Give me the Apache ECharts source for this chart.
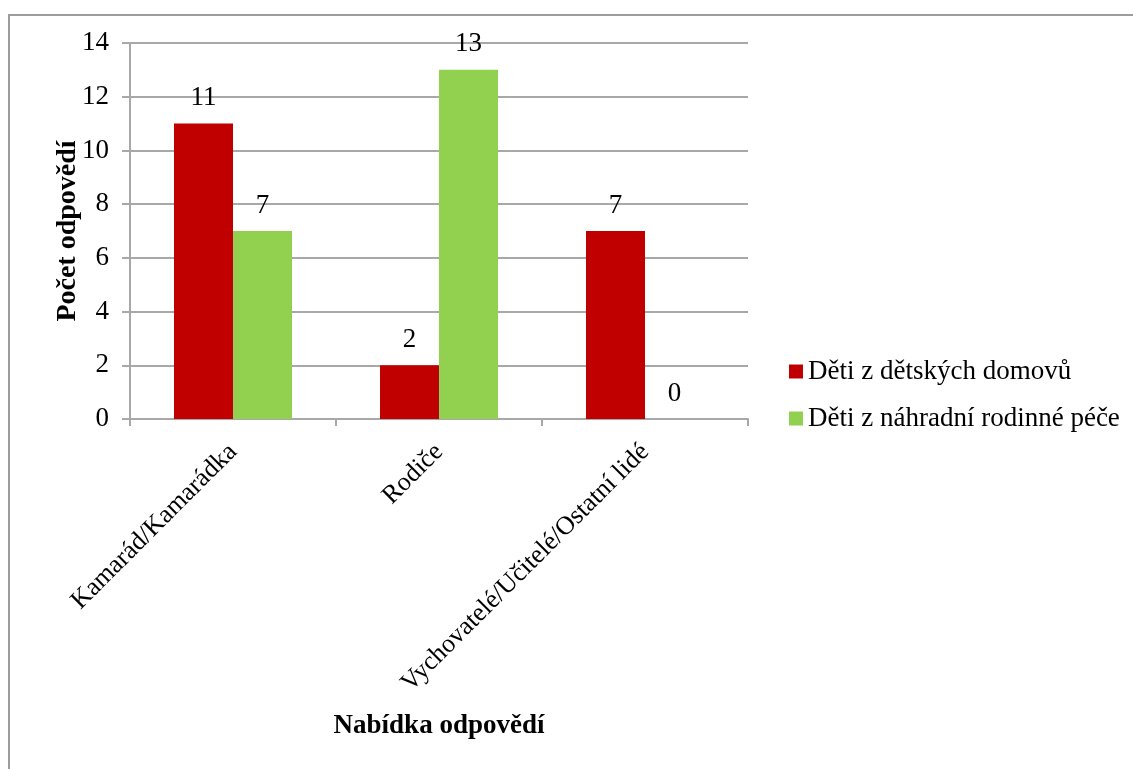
<!DOCTYPE html>
<html>
<head>
<meta charset="utf-8">
<script src="https://cdn.jsdelivr.net/npm/echarts@6/dist/echarts.min.js"></script>
<style>
  html, body { margin: 0; padding: 0; background: #ffffff; }
  #chart { width: 1133px; height: 769px; }
</style>
</head>
<body>
<div id="chart"></div>
<script>
// Answer options on the x axis
const categories = ['Kamarád/Kamarádka', 'Rodiče', 'Vychovatelé/Učitelé/Ostatní lidé'];
// Number of answers per group
const seriesNames = ['Děti z dětských domovů', 'Děti z náhradní rodinné péče'];
const childrensHomes = [11, 2, 7];
const fosterCare = [7, 13, 0];
// Value axis range
const yMin = 0;
const yMax = 14;
const yStep = 2;

const serif = '"Liberation Serif", "Times New Roman", serif';
const gridColor = '#a8a8a8';
const fontSize = 27;

const chart = echarts.init(document.getElementById('chart'));

const barLabel = {
  show: true,
  position: 'top',
  distance: 12,
  color: '#000',
  fontFamily: serif,
  fontSize: fontSize
};

chart.setOption({
  animation: false,
  backgroundColor: '#ffffff',
  textStyle: { fontFamily: serif },
  graphic: [{
    type: 'rect',
    shape: { x: 9, y: 15, width: 1300, height: 1000 },
    style: { fill: 'none', stroke: '#9c9c9c', lineWidth: 2 },
    silent: true
  }],
  grid: { left: 130, right: 385, top: 43, bottom: 350 },
  legend: {
    orient: 'vertical',
    left: 789,
    top: 358,
    padding: 0,
    itemWidth: 14,
    itemHeight: 14,
    itemGap: 20,
    icon: 'rect',
    textStyle: { fontFamily: serif, fontSize: fontSize, color: '#000' },
    data: seriesNames
  },
  xAxis: {
    type: 'category',
    data: categories,
    name: 'Nabídka odpovědí',
    nameLocation: 'middle',
    nameGap: 294,
    nameTextStyle: { fontFamily: serif, fontSize: fontSize, fontWeight: 'bold', color: '#000' },
    axisLine: { lineStyle: { color: gridColor, width: 2 } },
    axisTick: { show: true, length: 7, lineStyle: { color: gridColor, width: 2 } },
    axisLabel: {
      rotate: 45,
      margin: 29,
      fontFamily: serif,
      fontSize: 26,
      color: '#000',
      interval: 0
    }
  },
  yAxis: {
    type: 'value',
    min: yMin,
    max: yMax,
    interval: yStep,
    name: 'Počet odpovědí',
    nameLocation: 'middle',
    nameGap: 48,
    nameMoveOverlap: false,
    nameTextStyle: { fontFamily: serif, fontSize: 28, fontWeight: 'bold', color: '#000' },
    axisLine: { show: true, lineStyle: { color: gridColor, width: 2 } },
    axisTick: { show: true, length: 8, lineStyle: { color: gridColor, width: 2 } },
    axisLabel: { margin: 21, fontFamily: serif, fontSize: fontSize, color: '#000' },
    splitLine: { show: true, lineStyle: { color: gridColor, width: 2 } }
  },
  series: [
    {
      name: seriesNames[0],
      type: 'bar',
      data: childrensHomes,
      barWidth: 59,
      barGap: '0%',
      itemStyle: { color: '#c00000' },
      label: barLabel
    },
    {
      name: seriesNames[1],
      type: 'bar',
      data: fosterCare,
      barWidth: 59,
      barGap: '0%',
      itemStyle: { color: '#92d050' },
      label: barLabel
    }
  ]
});
</script>
</body>
</html>
